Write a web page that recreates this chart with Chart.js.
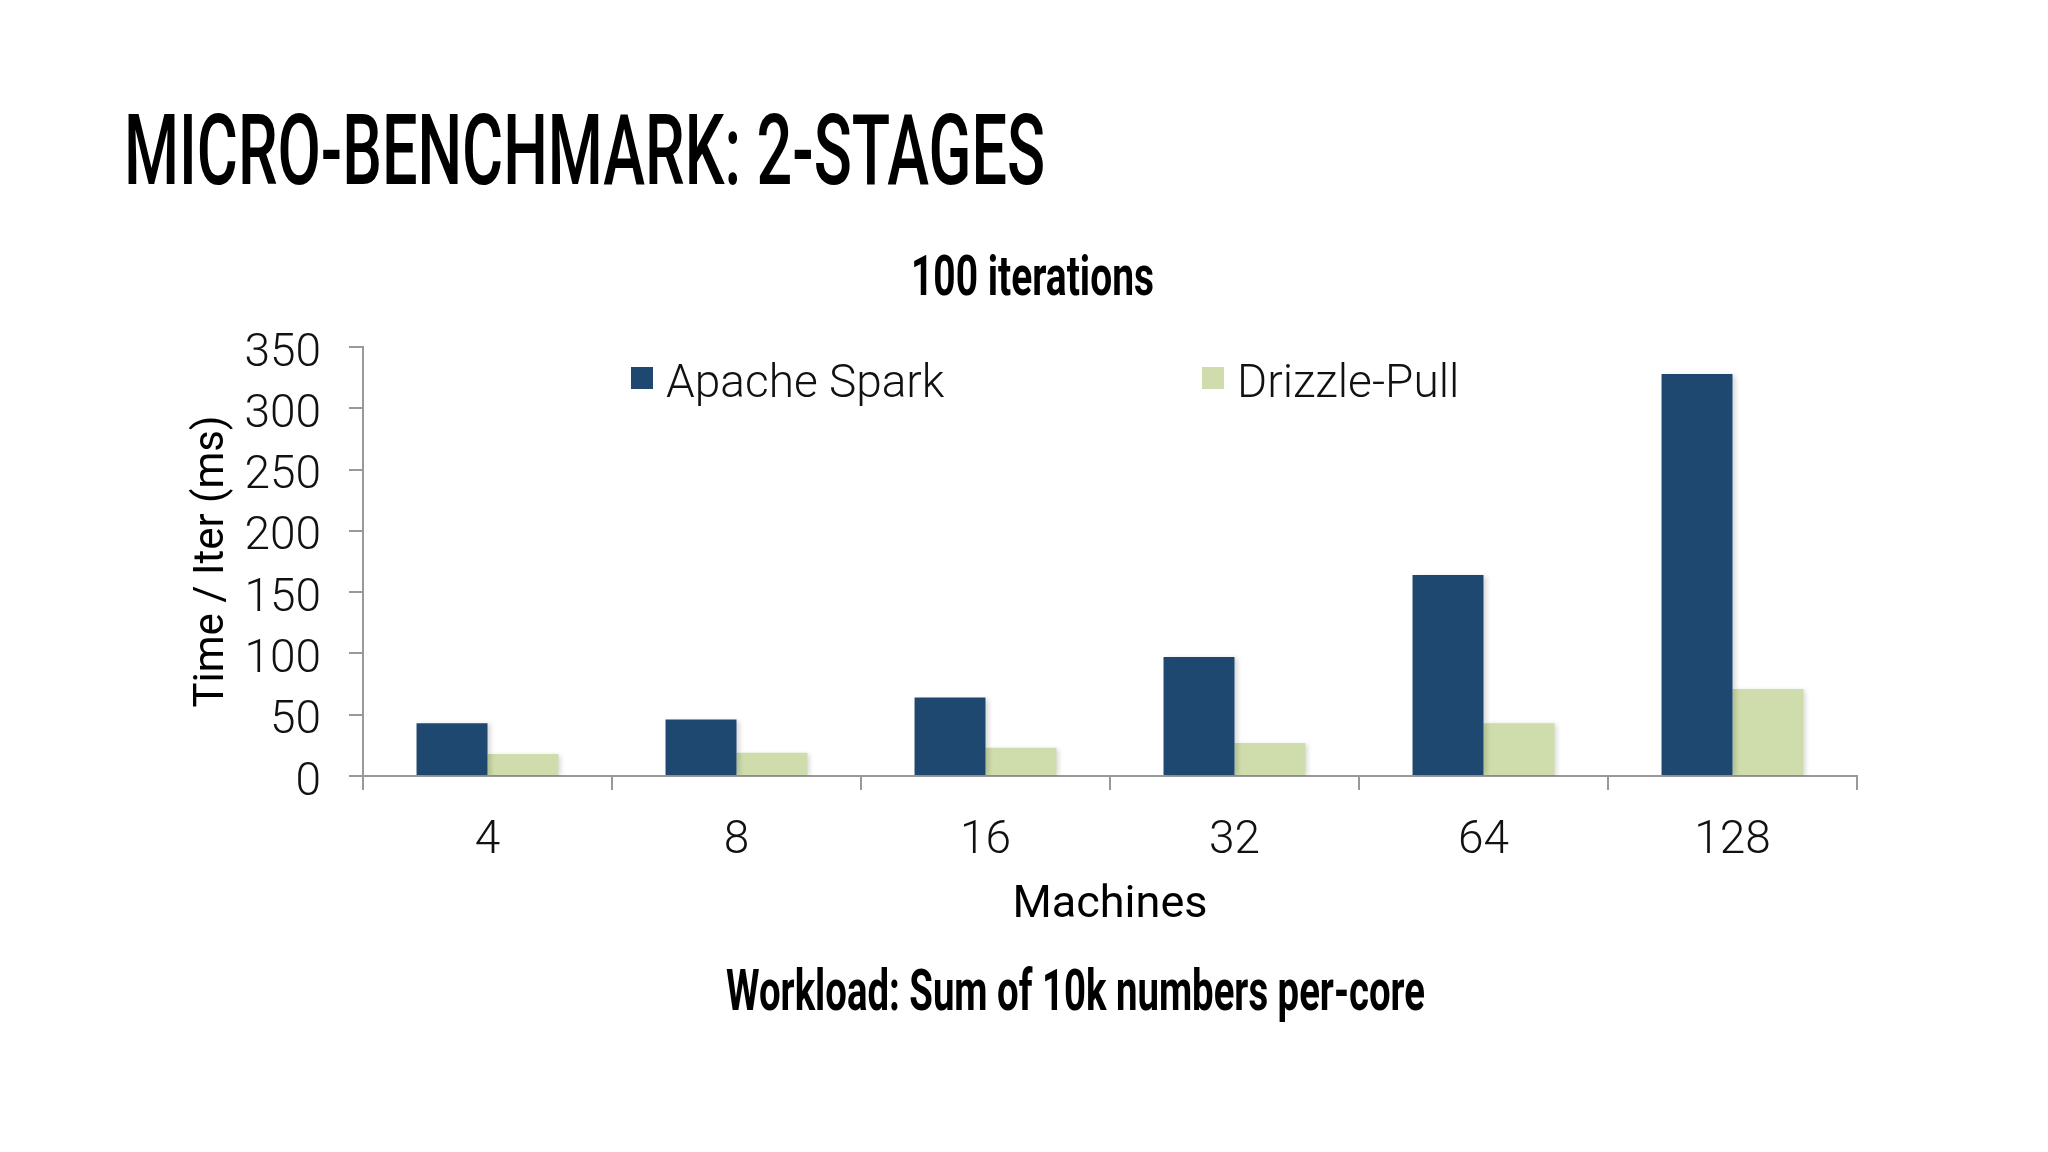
<!DOCTYPE html>
<html><head><meta charset="utf-8">
<script src="https://cdn.jsdelivr.net/npm/chart.js@4.4.0/dist/chart.umd.min.js"></script>
<style>
html,body{margin:0;padding:0;background:#fff;width:2048px;height:1152px;overflow:hidden}
#wrap{position:relative;width:2048px;height:1152px;background:#fff}
canvas{position:absolute;left:0;top:0}
.t{position:absolute;white-space:nowrap;line-height:1;font-family:Roboto,'Liberation Sans',sans-serif;color:#000;transform-origin:0 0}
</style></head><body>
<div id="wrap">
<canvas id="c" width="2048" height="1152"></canvas>
<div class="t" id="title">MICRO-BENCHMARK: 2-STAGES</div>
<div class="t" id="sub">100 iterations</div>
<div class="t" id="foot">Workload: Sum of 10k numbers per-core</div>
</div>
<script>
// ---- data ----
const categories = ['4', '8', '16', '32', '64', '128'];
const sparkValues = [43, 46, 64, 97, 164, 328];
const drizzleValues = [18, 19, 23, 27, 43, 71];
const yTickValues = [0, 50, 100, 150, 200, 250, 300, 350];
const seriesNames = ['Apache Spark', 'Drizzle-Pull'];
const xAxisTitle = 'Machines';
const yAxisTitle = 'Time / Iter (ms)';

// ---- slide text placement ----
function place(id, size, weight, x, baseline, width, centered) {
  const el = document.getElementById(id);
  el.style.fontSize = size + 'px';
  el.style.fontWeight = weight;
  const marker = document.createElement('span');
  marker.style.cssText = 'display:inline-block;width:0;height:0;vertical-align:baseline';
  el.appendChild(marker);
  const nat = el.getBoundingClientRect().width;
  const base = marker.offsetTop;
  el.style.left = (centered ? x - width / 2 : x) + 'px';
  el.style.top = (baseline - base) + 'px';
  el.style.transform = 'scaleX(' + (width / nat) + ')';
}
function layoutText() {
  place('title', 99, 500, 124, 184, 921, false);
  place('sub', 55, 700, 1032, 295, 243, true);
  place('foot', 58, 700, 1075, 1010, 699, true);
}

const insideLegend = {
  id: 'insideLegend',
  afterDatasetsDraw(chart) {
    const {ctx, chartArea} = chart;
    const xs = [chartArea.left + 268, chartArea.left + 839];
    ctx.save();
    ctx.font = '300 46px Roboto';
    ctx.textBaseline = 'alphabetic';
    ctx.textAlign = 'left';
    chart.data.datasets.forEach((ds, i) => {
      ctx.fillStyle = ds.backgroundColor;
      ctx.fillRect(xs[i], chartArea.top + 20, 22, 22);
      ctx.fillStyle = '#111';
      ctx.fillText(ds.label, xs[i] + 35, chartArea.top + 50);
    });
    ctx.restore();
  }
};

const barShadow = {
  id: 'barShadow',
  beforeDatasetDraw(chart) {
    const ctx = chart.ctx;
    ctx.save();
    ctx.shadowColor = 'rgba(0,0,0,0.16)';
    ctx.shadowBlur = 5;
    ctx.shadowOffsetX = 3;
    ctx.shadowOffsetY = 1;
  },
  afterDatasetDraw(chart) { chart.ctx.restore(); }
};

function build() {
  layoutText();
  new Chart(document.getElementById('c'), {
    type: 'bar',
    data: {
      labels: categories,
      datasets: [
        {label: seriesNames[0], data: sparkValues, backgroundColor: '#1F4870', borderWidth: 0},
        {label: seriesNames[1], data: drizzleValues, backgroundColor: '#CEDDAB', borderWidth: 0}
      ]
    },
    options: {
      responsive: false,
      devicePixelRatio: 1,
      animation: false,
      layout: {padding: {top: 347, left: 0, right: 191, bottom: 176}},
      datasets: {bar: {categoryPercentage: 0.57, barPercentage: 1.0}},
      plugins: {
        legend: {display: false},
        tooltip: {enabled: false},
        title: {display: false}
      },
      scales: {
        x: {
          afterFit: s => { s.height = 200; },
          grid: {display: true, drawOnChartArea: false, drawTicks: true, tickLength: 14, color: '#999', lineWidth: 2, offset: true},
          border: {display: true, color: '#999', width: 2},
          ticks: {color: '#111', padding: 24, font: {family: 'Roboto', size: 46, weight: 300}},
          title: {display: true, text: xAxisTitle, color: '#000', padding: {top: 0, bottom: 43}, font: {family: 'Roboto', size: 45, weight: 400}}
        },
        y: {
          min: 0, max: 350,
          afterFit: s => { s.width = 363; },
          afterBuildTicks: s => { s.ticks = yTickValues.map(v => ({value: v})); },
          grid: {display: true, drawOnChartArea: false, drawTicks: true, tickLength: 14, color: '#999', lineWidth: 2},
          border: {display: true, color: '#999', width: 2},
          ticks: {color: '#111', padding: 28, labelOffset: 7, font: {family: 'Roboto', size: 46, weight: 300}},
          title: {display: true, text: yAxisTitle, color: '#000', padding: {top: 187, bottom: 0}, font: {family: 'Roboto', size: 42, weight: 400}}
        }
      }
    },
    plugins: [barShadow, insideLegend]
  });
}
if (document.fonts && document.fonts.ready) { document.fonts.ready.then(build); } else { build(); }
</script>
</body></html>
